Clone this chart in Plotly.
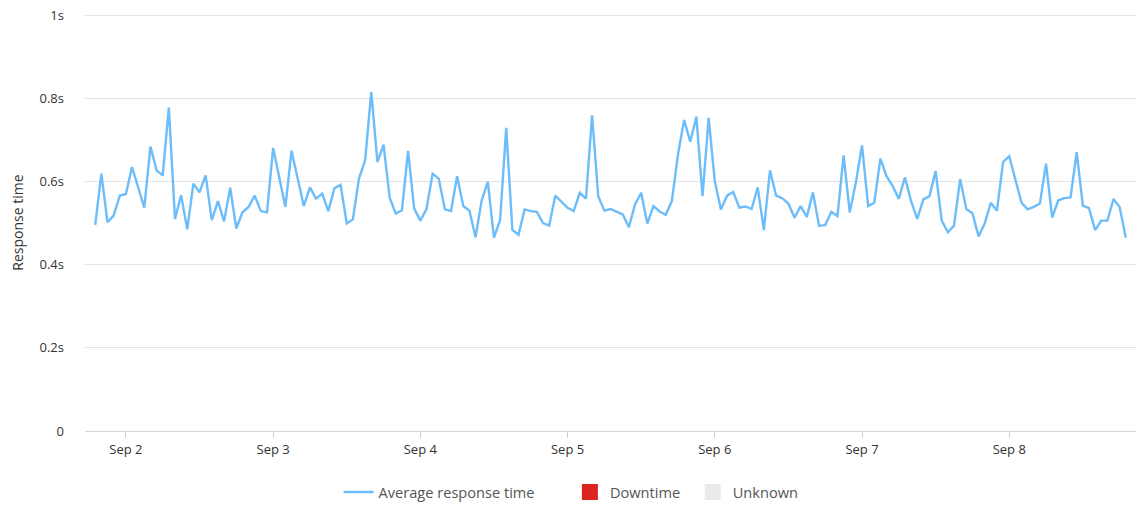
import pandas as pd
import plotly.graph_objects as go

# hourly average response time (seconds), Sep 1 19:00 -> Sep 8 19:00
start = "2024-09-01 19:00"
response_time = [
    0.496, 0.619, 0.502, 0.518, 0.566, 0.570, 0.635, 0.587, 0.537, 0.684,
    0.627, 0.615, 0.778, 0.510, 0.567, 0.485, 0.595, 0.574, 0.615, 0.507,
    0.553, 0.504, 0.585, 0.487, 0.526, 0.539, 0.566, 0.529, 0.526, 0.681,
    0.613, 0.539, 0.674, 0.608, 0.541, 0.586, 0.559, 0.571, 0.529, 0.584,
    0.592, 0.499, 0.509, 0.607, 0.651, 0.816, 0.647, 0.689, 0.561, 0.523,
    0.531, 0.674, 0.535, 0.506, 0.534, 0.619, 0.607, 0.533, 0.529, 0.613,
    0.541, 0.530, 0.466, 0.555, 0.599, 0.465, 0.507, 0.729, 0.484, 0.472,
    0.533, 0.529, 0.527, 0.500, 0.494, 0.566, 0.552, 0.537, 0.529, 0.573,
    0.559, 0.759, 0.565, 0.530, 0.534, 0.527, 0.521, 0.490, 0.545, 0.573,
    0.499, 0.541, 0.528, 0.520, 0.553, 0.665, 0.748, 0.696, 0.756, 0.565,
    0.753, 0.601, 0.533, 0.566, 0.575, 0.537, 0.540, 0.534, 0.586, 0.483,
    0.627, 0.566, 0.560, 0.547, 0.513, 0.541, 0.515, 0.574, 0.494, 0.495,
    0.527, 0.517, 0.663, 0.526, 0.598, 0.687, 0.541, 0.549, 0.655, 0.613,
    0.589, 0.558, 0.610, 0.553, 0.510, 0.557, 0.565, 0.625, 0.506, 0.478,
    0.494, 0.606, 0.534, 0.524, 0.468, 0.499, 0.549, 0.530, 0.647, 0.661,
    0.605, 0.549, 0.533, 0.539, 0.547, 0.643, 0.513, 0.555, 0.560, 0.562,
    0.671, 0.542, 0.536, 0.483, 0.506, 0.506, 0.558, 0.539, 0.465,
]
times = pd.date_range(start, periods=len(response_time), freq="h")

y_ticks = [0, 0.2, 0.4, 0.6, 0.8, 1]
y_labels = ["0", "0.2s", "0.4s", "0.6s", "0.8s", "1s"]

font = "'Open Sans', sans-serif"
pad = "\u00a0"  # widen the gaps between legend entries

fig = go.Figure()

fig.add_trace(go.Scatter(
    x=times, y=response_time,
    mode="lines",
    line=dict(color="#6cbdf9", width=2.4),
    name="Average response time" + pad * 8,
))

# legend-only entries
fig.add_trace(go.Scatter(
    x=[None], y=[None], mode="markers",
    marker=dict(symbol="square", size=18, color="#dd2222"),
    name="Downtime" + pad * 2,
))
fig.add_trace(go.Scatter(
    x=[None], y=[None], mode="markers",
    marker=dict(symbol="square", size=18, color="#ebebeb"),
    name="Unknown",
))

fig.update_layout(
    width=1146, height=511,
    margin=dict(l=85, r=10, t=14, b=80),
    paper_bgcolor="white",
    plot_bgcolor="white",
    font=dict(family=font, size=13, color="#333333"),
    showlegend=True,
    legend=dict(
        orientation="h",
        xref="container", yref="container",
        x=0.4983, xanchor="center",
        y=0.0372, yanchor="middle",
        font=dict(size=14.6, color="#555555"),
        itemwidth=30,
    ),
    xaxis=dict(
        range=["2024-09-01 17:20", "2024-09-08 20:40"],
        tickformat="%b %-d",
        dtick=86400000,
        tick0="2024-09-02",
        ticks="outside",
        ticklen=6,
        tickcolor="#cccccc",
        showgrid=False,
        showline=True,
        linecolor="#d6d6d6",
        tickfont=dict(size=13, color="#333333"),
        zeroline=False,
        automargin=False,
    ),
    yaxis=dict(
        range=[0, 1.003],
        tickvals=y_ticks,
        ticktext=y_labels,
        showgrid=True,
        gridcolor="#e3e3e3",
        gridwidth=1,
        zeroline=False,
        ticklabelstandoff=20,
        ticklabeloverflow="allow",
        tickfont=dict(size=13, color="#333333"),
        title=dict(text="Response time", font=dict(size=14, color="#333333"), standoff=12),
        automargin=False,
    ),
)

# drop the browser's default body margin so the figure fills the window
fig.write_html(
    "out.html",
    config={"displayModeBar": False},
    post_script="document.body.style.margin = '0';",
)
